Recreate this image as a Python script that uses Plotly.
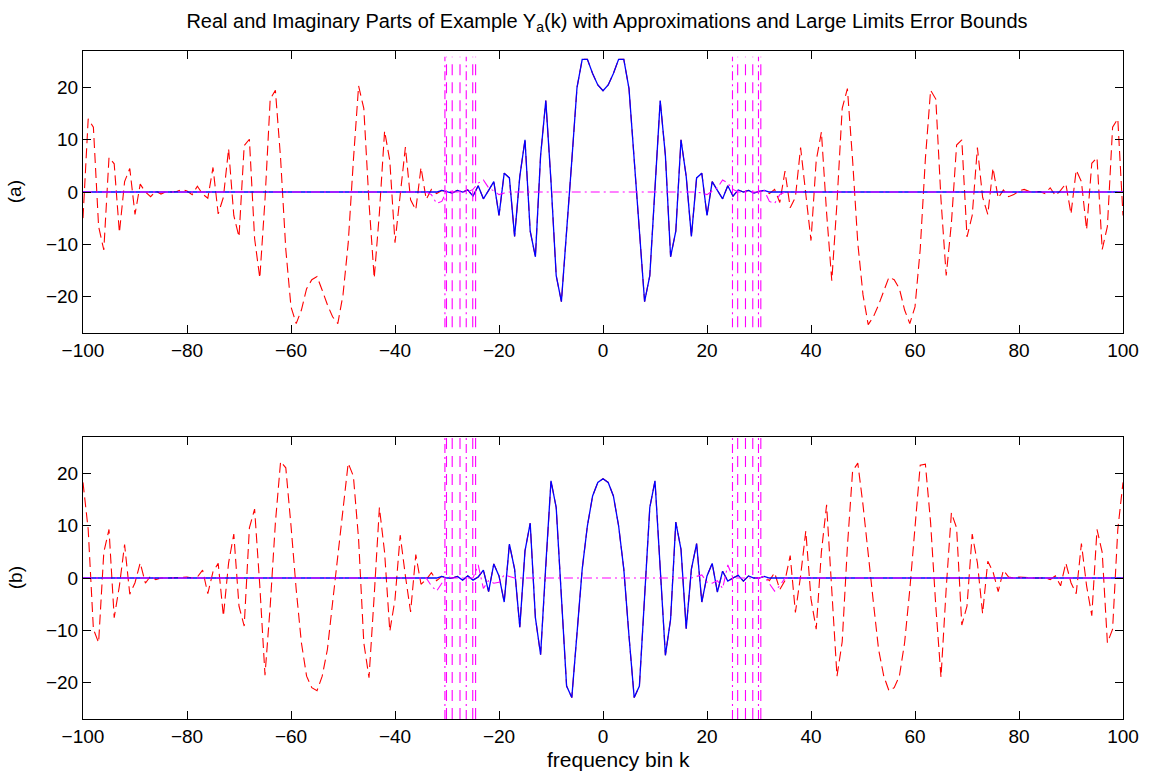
import plotly.graph_objects as go

k = list(range(-100, 101))

# ---------------- panel (a): real part ----------------
re_outer_left = [-5, 14, 12.4, -6.6, -11.1, 6.6, 5.4, -7.8, 2, 4.5,
                 -4.3, 1.5, 0, -0.9, 0.2, -0.4, 0.1, 0, 0.1, 0.5,
                 0.2, -0.5, 1.1, -0.4, -1.2, 4.7, -4.2, -1, 8.3, -4.5,
                 -8.6, 8.9, 10.1, -8.9, -16.5, -1.5, 17.8, 19.5, 6.4, -11,
                 -22, -25.2, -22.6, -18.5, -16.8, -16.2, -18.8, -21.6, -23.9, -25.2,
                 -19.7, -9.8, 6.1, 20.3, 16, -2, -16.5, -4, 11.7, 6,
                 -9.7, -0.9, 8.6, -1.5, -3.4, 4.7, -1.4, 0.5, -0.3]
re_core = [0.3, 0.1, -0.2, 0.3, 0, 0.4, -0.8, 1.2, -1.3, 0.3, 2,
           -4.5, 3.6, 2.7, -8.5, 3, 10, -7.5, -12.4, 7, 17.5,
           2, -16, -21, -8, 6, 20, 25.4, 25.4, 22.7, 20.5,
           19.4,
           20.5, 22.7, 25.4, 25.4, 19.8, 6, -8, -21, -16, 2,
           17.5, 7, -12.4, -7.5, 10, 3, -8.5, 2.7, 3.6, -4.5,
           2, 0.3, -1.3, 1.2, -0.8, 0.4, 0, 0.3, -0.2, 0.1, 0.3]
re_outer_right = [-0.3, 0.5, -2, 4, -3, -1, 8.5, -0.9, -9.3,
                  6, 11.5, -4, -17, -2, 16, 19.8, 6.1, -9.8, -19.7,
                  -25.4, -23.9, -21.6, -18.8, -16.3, -16.8, -18.5, -22.6, -25.2, -22,
                  -11, 6.4, 19.5, 17.8, -1.5, -16, -6, 9, 10, -8.6,
                  -4.5, 8.5, -1, -4.3, 4.6, -1.2, 0.4, -0.9, -0.5, 0.2,
                  0.5, 0.1, 0, 0.1, -0.3, 0.8, -0.7, 0.3, 1.6, -4.2,
                  4.2, 2, -7.2, 5.5, 6.6, -11, -6.6, 12.4, 14, -4.5]
re_err_core = [0, 0, -0.5, -2.2, -1.8,
               0.3, 0, 0, 0, 0, 0.5, 1.7, 2.3, 0.8, 0.2,
               -0.5, -0.2, 0, 0, 0, 0, 0, 0, 0, 0,
               0, 0, 0, 0, 0, 0, 0, 0, 0, 0,
               0,
               0, 0, 0, 0, 0, 0, 0, 0, 0, 0,
               0, 0, 0, 0, 0, 0, 0, 0, -0.2, -0.5,
               0.2, 0.8, 2.3, 1.7, 0.5, 0, 0, 0, 0, 0, 0.3,
               -1.8, -2.2, -0.5, 0, 0]

# ---------------- panel (b): imaginary part ----------------
im_outer_left = [18.3, 9.3, -9.8, -12.4, 4.9, 9.3, -7.6, -1.5, 6.4, -3.1,
                 -0.9, 2.9, -1, 0.4, -0.3, 0, 0, 0, 0, 0.1,
                 0.2, 0, 0.2, 1.5, -3, 1.2, 2.8, -7.3, 2.9, 8.4,
                 -5.4, -9.2, 9.6, 13.2, -1.5, -18.6, -5.4, 10.6, 22.3, 21.1,
                 10, -2.2, -12.4, -18.8, -21, -21.6, -18.8, -13.7, -4.7, 4.2,
                 14, 22, 19.5, 7.4, -12.4, -19.1, -3.4, 13.5, 4.9, -10.2,
                 -4.1, 8.2, 0.4, -6.5, 4.5, -1.2, -0.3, 1, -0.5]
im_core = [0.3, 0, 0, 0.3, -0.4, 0.4, -0.4, 0.2, 1.5, -2.6, 2.7,
           0.4, -4.6, 6.5, 1.7, -9.4, 5.2, 10.5, -7.6, -14.7, 2.5,
           18.6, 13.5, -3, -20.7, -22.9, -11.1, 1.7, 10, 15.7, 18.3,
           19,
           18.3, 15.7, 10, 1.7, -11.1, -22.9, -20.7, -3, 13.5, 18.6,
           2.5, -14.8, -7.9, 10.7, 5.5, -9.7, 1.7, 6.6, -4.6, 0.4,
           2.8, -2.7, 1.3, -0.6, 0, 0.5, -0.6, 0.4, 0, 0, 0.3]
im_outer_right = [-0.5, 1, -2.2, -0.5, 4.3, -6.6, 0.4, 9, -4,
                  -9.8, 5, 14, -3.4, -18.8, -12.2, 6, 20.5, 22, 14,
                  4.2, -4.7, -13.7, -18.8, -21.6, -21, -18.8, -12.4, -2.2, 10,
                  21.6, 21.8, 10.6, -5.4, -19, -2, 12.5, 9.6, -9, -5.4,
                  8.4, 2.9, -6.8, 3.2, 1.2, -2.6, 1.5, 0.2, 0, 0.2,
                  0.1, 0, 0, 0, 0, -0.3, 0.4, -1.5, 2.9, -0.9,
                  -3, 6.6, -1.5, -7.2, 9.3, 4.9, -12.4, -9.8, 9.3, 18.3]
im_err_core = [0, 0, -1.5, -2.5, -1,
               0.3, 0, 0, 0, 0, 0, 2.5, -2, -0.5, -1,
               -0.8, 0.6, 0.3, 0, 0, 0, 0, 0, 0, 0,
               0, 0, 0, 0, 0, 0, 0, 0, 0, 0,
               0,
               0, 0, 0, 0, 0, 0, 0, 0, 0, 0,
               0, 0, 0, 0, 0, 0, 0, 0.3, 0.6, -0.8,
               -1, -0.5, -2, 2.5, 0, 0, 0, 0, 0, 0, 0.3,
               -1, -2.5, -1.5, 0, 0]

zeros_69 = [0] * 69
zeros_65 = [0] * 65

re_exact = re_outer_left + re_core + re_outer_right
re_approx = zeros_69 + re_core + zeros_69
re_error = zeros_65 + re_err_core + zeros_65
im_exact = im_outer_left + im_core + im_outer_right
im_approx = zeros_69 + im_core + zeros_69
im_error = zeros_65 + im_err_core + zeros_65

# large-limit error-bound markers (frequency bins) and their line styles
bound_k = [-30.4, -30.1, -29.0, -27.5, -26.3, -25.05, -24.5,
           24.9, 25.9, 27.4, 28.8, 29.9, 30.35]
bound_dash = ["dashdot", "dash", "dash", "dash", "dashdot", "dash", "dash",
              "dashdot", "dash", "dash", "dash", "dashdot", "dash"]
bound_half_height = [25.9, 27.0]

x_ticks = [-100, -80, -60, -40, -20, 0, 20, 40, 60, 80, 100]
y_ticks = [-20, -10, 0, 10, 20]

RED_DASH = "10px,5px"
MAG_DASHDOT = "9px,4px,2px,4px"

fig = go.Figure()
panels = [(re_exact, re_approx, re_error, "x", "y"),
          (im_exact, im_approx, im_error, "x2", "y2")]
for ex, ap, er, xa, ya in panels:
    fig.add_trace(go.Scatter(x=k, y=ex, mode="lines", xaxis=xa, yaxis=ya,
                             line=dict(color="#ff0000", width=1.1, dash=RED_DASH),
                             showlegend=False, hoverinfo="skip"))
    fig.add_trace(go.Scatter(x=k, y=ap, mode="lines", xaxis=xa, yaxis=ya,
                             line=dict(color="#0000ff", width=1.3),
                             showlegend=False, hoverinfo="skip"))
    fig.add_trace(go.Scatter(x=k, y=er, mode="lines", xaxis=xa, yaxis=ya,
                             line=dict(color="#ff00ff", width=1.1, dash=MAG_DASHDOT),
                             showlegend=False, hoverinfo="skip"))

shapes = []
for (xa, ya), h in zip([("x", "y"), ("x2", "y2")], bound_half_height):
    for bk, ds in zip(bound_k, bound_dash):
        shapes.append(dict(type="line", xref=xa, yref=ya, x0=bk, x1=bk, y0=-h, y1=h,
                           line=dict(color="#ff00ff", width=1.1,
                                     dash=MAG_DASHDOT if ds == "dashdot" else "11px,7px")))

FONT = "Liberation Sans, Arial, Helvetica, sans-serif"
axis_common = dict(showline=True, linecolor="black", linewidth=1, mirror="ticks",
                   ticks="inside", ticklen=8, tickwidth=1, tickcolor="black",
                   showgrid=False, zeroline=False,
                   tickfont=dict(family=FONT, size=19, color="black"))

fig.update_layout(
    width=1151, height=771,
    margin=dict(l=83, r=24, t=51, b=52),
    paper_bgcolor="white", plot_bgcolor="white",
    font=dict(family=FONT, color="black"),
    title=dict(text="Real and Imaginary Parts of Example Y<sub>a</sub>(k) with Approximations and Large Limits Error Bounds",
               x=(609 - 83) / 1044, xref="paper", xanchor="center", y=1 - 21 / 771, yref="container", yanchor="middle",
               font=dict(family=FONT, size=20, color="black")),
    xaxis=dict(domain=[0, 1], range=[-100, 100], tickvals=x_ticks, anchor="y", **axis_common),
    yaxis=dict(domain=[386 / 668, 1], range=[-27, 27], tickvals=y_ticks, anchor="x", **axis_common),
    xaxis2=dict(domain=[0, 1], range=[-100, 100], tickvals=x_ticks, anchor="y2", **axis_common),
    yaxis2=dict(domain=[0, 282 / 668], range=[-27, 27], tickvals=y_ticks, anchor="x2", **axis_common),
    shapes=shapes,
    annotations=[
        dict(text="(a)", xref="paper", yref="paper", x=(15 - 83) / 1044, y=(719 - 192) / 668,
             showarrow=False, textangle=-90, xanchor="center", yanchor="middle",
             font=dict(family=FONT, size=19, color="black")),
        dict(text="(b)", xref="paper", yref="paper", x=(15 - 83) / 1044, y=(719 - 578) / 668,
             showarrow=False, textangle=-90, xanchor="center", yanchor="middle",
             font=dict(family=FONT, size=19, color="black")),
        dict(text="frequency bin k", xref="paper", yref="paper", x=(621 - 83) / 1044, y=(719 - 759) / 668,
             showarrow=False, xanchor="center", yanchor="middle",
             font=dict(family=FONT, size=21, color="black")),
    ],
)

fig.write_html("out.html")
